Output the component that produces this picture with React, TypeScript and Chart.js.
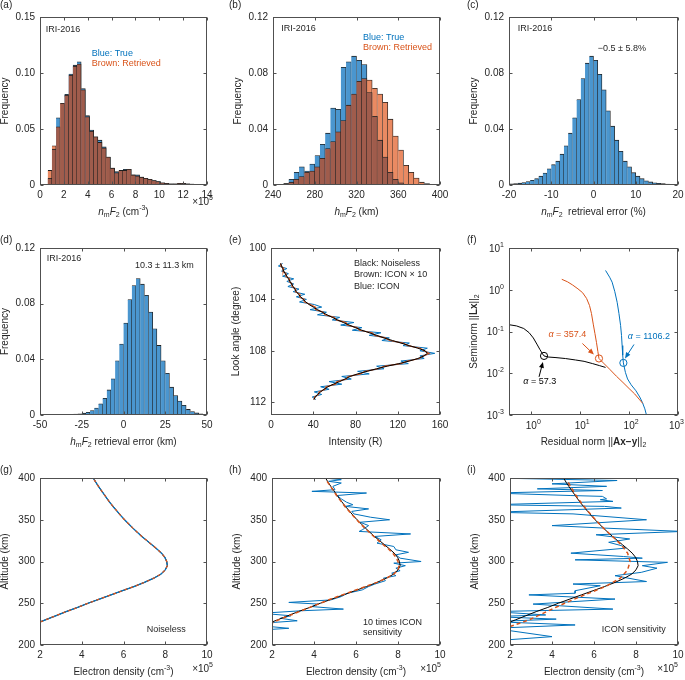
import React, { useEffect, useRef } from 'react';
import { Chart, registerables } from 'chart.js';
Chart.register(...registerables);

// ---------------- data ----------------
// (a) NmF2 histograms (x 1e5 cm^-3)
const nmf2Bins = [0.825,1.175,1.525,1.875,2.225,2.575,2.925,3.275,3.625,3.975,4.325,4.675,5.025,5.375,5.725,6.075,6.425,6.775,7.125,7.475,7.825,8.175,8.525,8.875,9.225,9.575,9.925,10.275,10.625,10.975,11.325,11.675,12.025,12.375,12.725,13.075,13.425];
const nmf2True = [0.006,0.032,0.060,0.073,0.081,0.099,0.107,0.110,0.086,0.062,0.049,0.043,0.040,0.034,0.025,0.015,0.012,0.013,0.014,0.014,0.009,0.009,0.007,0.006,0.005,0.004,0.003,0.002,0.0015,0.001,0.001,0.0015,0.0015,0.001,0.0008,0.0004,0.0002];
const nmf2Retrieved = [0.013,0.035,0.052,0.073,0.080,0.098,0.106,0.108,0.085,0.061,0.048,0.043,0.038,0.033,0.025,0.015,0.011,0.013,0.013,0.014,0.009,0.008,0.007,0.006,0.005,0.004,0.003,0.002,0.0015,0.001,0.001,0.0015,0.0015,0.001,0.0008,0.0004,0.0002];
// (b) hmF2 histograms (km)
const hmf2Bins = [247.5,252.5,257.5,262.5,267.5,272.5,277.5,282.5,287.5,292.5,297.5,302.5,307.5,312.5,317.5,322.5,327.5,332.5,337.5,342.5,347.5,352.5,357.5,362.5,367.5,372.5,377.5,382.5,387.5];
const hmf2True = [0.0005,0.001,0.004,0.009,0.013,0.010,0.015,0.021,0.029,0.037,0.055,0.054,0.084,0.088,0.092,0.089,0.086,0.066,0.049,0.032,0.020,0.009,0.004,0.0015,0.0005,0,0,0,0];
const hmf2Retrieved = [0.0005,0.001,0.002,0.004,0.006,0.009,0.010,0.013,0.019,0.026,0.031,0.038,0.046,0.057,0.065,0.074,0.076,0.075,0.069,0.065,0.059,0.047,0.035,0.025,0.014,0.009,0.005,0.002,0.001];
// (c) NmF2 retrieval error (%)
const nmf2ErrBins = [-19.5,-18.5,-17.5,-16.5,-15.5,-14.5,-13.5,-12.5,-11.5,-10.5,-9.5,-8.5,-7.5,-6.5,-5.5,-4.5,-3.5,-2.5,-1.5,-0.5,0.5,1.5,2.5,3.5,4.5,5.5,6.5,7.5,8.5,9.5,10.5,11.5,12.5,13.5,14.5,15.5,16.5,17.5,18.5,19.5];
const nmf2ErrFreq = [0.0008,0.001,0.0013,0.0018,0.0025,0.0033,0.0045,0.0063,0.0085,0.0115,0.0145,0.017,0.022,0.028,0.037,0.048,0.061,0.076,0.087,0.092,0.089,0.079,0.068,0.053,0.042,0.032,0.024,0.017,0.013,0.0088,0.0063,0.0045,0.003,0.0022,0.0016,0.0012,0.001,0.0007,0.0005,0.0003];
// (d) hmF2 retrieval error (km)
const hmf2ErrBins = [-48.75,-46.25,-43.75,-41.25,-38.75,-36.25,-33.75,-31.25,-28.75,-26.25,-23.75,-21.25,-18.75,-16.25,-13.75,-11.25,-8.75,-6.25,-3.75,-1.25,1.25,3.75,6.25,8.75,11.25,13.75,16.25,18.75,21.25,23.75,26.25,28.75,31.25,33.75,36.25,38.75,41.25,43.75,46.25,48.75];
const hmf2ErrFreq = [0.0001,0.0001,0.0001,0.0001,0.0002,0.0002,0.0003,0.0004,0.0006,0.0009,0.0013,0.002,0.0032,0.005,0.008,0.012,0.018,0.026,0.039,0.051,0.066,0.083,0.093,0.098,0.094,0.086,0.074,0.062,0.050,0.039,0.030,0.020,0.014,0.010,0.007,0.004,0.0025,0.0015,0.0008,0.0004];
// (e) limb intensity profile
const lookAngle = [101.2,101.4,101.6,101.8,102.0,102.2,102.4,102.6,102.8,103.0,103.2,103.4,103.6,103.8,104.0,104.2,104.4,104.6,104.8,105.0,105.2,105.4,105.6,105.8,106.0,106.2,106.4,106.6,106.8,107.0,107.2,107.4,107.6,107.8,108.0,108.2,108.4,108.6,108.8,109.0,109.2,109.4,109.6,109.8,110.0,110.2,110.4,110.6,110.8,111.0,111.2,111.4,111.6,111.8];
const intensityNoiseless = [9,10,11,12,13.5,15,16.5,18,19.5,21,22.5,24,26,28,30.5,33,36,40,44,48.5,53,58,63,68.5,74,80,86,93,100,107,115,123,131,139,146,148,145,139,131,121,110,100,91,82,75,70,65,59,54,50,47,44,42,40.5];
const intensityIcon10 = [9.5,9.2,12,11.5,14.3,14,17.7,17.4,19.9,19.8,23.5,23.2,27.5,27,31.3,31.5,37.2,42,42.2,49.5,51,59.8,61.8,71,72,81.5,83.8,95.8,98.2,108.2,112.5,125,129.5,141.2,144.8,149.8,144,140.5,129,123.2,107.5,101.8,88.8,84.8,73,71.5,62.5,61,52.2,51.2,45.5,45,41.2,41];
const intensityIcon = [11,7,15,10,16.5,11,21.5,15,21.5,16,26.5,21,32,24,33.5,27,41,48,37,52.5,44,65,58,78.5,66,86,77,104,93,112,105,131,125,148,141,155,141,145,123,130,100,107,82,93,67,76,55,67,47,55,41,48,39,42.5];
// (f) L-curves
const lcBlackRes = [0.355,0.5,0.7,0.9,1.1,1.3,1.5,1.7,1.82,2.2,3.2,5,8,12,18,25,33];
const lcBlackSemi = [0.145,0.136,0.118,0.094,0.07,0.05,0.037,0.029,0.026,0.0245,0.0237,0.0225,0.0208,0.0193,0.017,0.0152,0.0138];
const lcBrownRes = [4.2,5.5,7,9,11.2,13.5,15.5,17,18.5,20,21.5,23,24.2,30,40,55,75,100,130,160,190];
const lcBrownSemi = [1.78,1.55,1.3,1.05,0.85,0.62,0.42,0.27,0.15,0.09,0.055,0.033,0.0226,0.0175,0.0125,0.0085,0.006,0.0043,0.0032,0.0024,0.0019];
const lcBlueRes = [33,40,45,51,57,62,67,70,72,74,76.4,84,93,110,138,165,187,210,232];
const lcBlueSemi = [2.9,2.0,1.52,0.9,0.5,0.27,0.14,0.08,0.046,0.027,0.0177,0.0105,0.0073,0.0053,0.0038,0.0027,0.002,0.0014,0.0009];
const cornerRes = [1.82, 24.2, 76.4];
const cornerSemi = [0.026, 0.0226, 0.0177];
const alphaLabels = ['57.3', '357.4', '1106.2'];
// (g)-(i) electron density profiles (x 1e5 cm^-3)
const altitude = [225,230,235,240,245,250,255,260,265,270,275,280,285,290,295,300,305,310,315,320,325,330,335,340,345,350,355,360,365,370,375,380,385,390,395,400];
const neTrue = [1.75,2.25,2.75,3.25,3.8,4.3,4.85,5.4,5.95,6.5,7.0,7.45,7.8,8.0,8.1,8.07,7.98,7.82,7.6,7.36,7.12,6.88,6.66,6.45,6.25,6.05,5.87,5.7,5.53,5.37,5.22,5.08,4.94,4.8,4.67,4.55];
const hNeRetr = [1.9,2.3,2.8,3.3,3.8,4.3,4.8,5.35,5.9,6.45,7.0,7.45,7.8,8.0,8.05,8.0,7.9,7.75,7.55,7.3,7.08,6.85,6.63,6.42,6.22,6.03,5.85,5.68,5.5,5.35,5.2,5.05,4.92,4.78,4.65,4.53];
const hAltIcon = [400,398,396,394,390,386,384,382,379,375,371,368,366,363,360,357,353,350,347,343,338,336,333,330,326,322,318,314,311,308,304,300,298,295,292,289,286,283,280,277,273,270,266,262,258,254,251,249,246,243,241,238,235,232,229,226,223,220,218];
const hNeIcon = [4.5,5.3,4.7,5.3,4.9,5.0,3.9,6.5,5.1,5.3,5.55,5.85,5.5,6.6,5.8,5.9,6.7,7.6,6.2,6.6,6.3,6.15,8.6,6.9,7.2,7.0,7.8,7.9,8.5,7.9,8.1,9.1,7.8,8.35,7.9,8.1,7.7,7.9,7.3,7.4,6.9,6.6,6.3,5.6,5.3,4.8,2.8,4.2,3.9,5.4,3.4,1.5,2.9,2.4,3.2,1.5,1.5,2.8,1.5];
const iAltRetr = [222,230,240,250,260,270,280,290,300,310,320,330,340,350,360,370,380,390,396];
const iNeRetr = [2.0,2.9,3.75,4.6,5.55,6.55,7.25,7.6,7.72,7.6,7.3,6.88,6.45,6.07,5.72,5.4,5.12,4.88,4.75];
const iAltIcon = [400,397,393,390,387,385,382,379,378,375,374,372,368,366,364,359,357,350,343,340,336,332,327,323,319,316,310,306,304,302,299,295,292,287,283,276,273,271,265,262,260,255,249,243,240,236,234,231,228,224,220,210,205];
const iNeIcon = [1.2,7.1,4.0,6.6,3.3,6.4,1.2,4.9,6.4,6.6,6.3,6.9,1.2,6.5,7.3,1.2,5.0,8.5,4.0,6.5,10.2,6.1,7.7,6.7,7.3,7.5,4.9,7.4,8.3,5.1,9.5,8.3,9.0,8.25,7.0,8.5,5.0,6.3,5.1,5.1,2.9,7.0,3.1,6.9,1.2,3.7,1.2,4.2,1.2,5.1,1.2,4.0,1.2];

// ticks
const aXTicks = [0,2,4,6,8,10,12,14];
const aXLabels = ['0','2','4','6','8','10','12','14'];
const aYTicks = [0,0.05,0.1,0.15];
const aYLabels = ['0','0.05','0.10','0.15'];
const bXTicks = [240,280,320,360,400];
const bXLabels = ['240','280','320','360','400'];
const freqTicks = [0,0.04,0.08,0.12];
const freqLabels = ['0','0.04','0.08','0.12'];
const cXTicks = [-20,-10,0,10,20];
const cXLabels = ['-20','-10','0','10','20'];
const dXTicks = [-50,-25,0,25,50];
const dXLabels = ['-50','-25','0','25','50'];
const eXTicks = [0,40,80,120,160];
const eXLabels = ['0','40','80','120','160'];
const eYTicks = [100,104,108,112];
const eYLabels = ['100','104','108','112'];
const fXTicks = [1,10,100,1000];
const fXExp = ['0','1','2','3'];
const fYTicks = [0.001,0.01,0.1,1,10];
const fYExp = ['-3','-2','-1','0','1'];
const neTicks = [2,4,6,8,10];
const neLabels = ['2','4','6','8','10'];
const altTicks = [200,250,300,350,400];
const altLabels = ['200','250','300','350','400'];

// ---------------- styling ----------------
const FONT = "'Liberation Sans', Arial, Helvetica, sans-serif";
const INK = '#262626';
const FRAME = '#505050';
const BLUE = '#0072BD';
const ORANGE = '#D95319';
const BAR_BLUE = '#4a96cf';
const BAR_ORANGE = '#ea8a62';
const BAR_BROWN = '#a05c4c';
const EDGE = '#1e1e1e';
const FS = 10;
const TFS = 9;
const PAD_L = 48, PAD_T = 9, PAD_B = 36;

type Seg = { t: string; it?: boolean; bd?: boolean; sub?: boolean; sup?: boolean };
type Rect = { l: number; t: number; r: number; b: number };

function segFont(s: Seg, size: number) {
  const z = s.sub || s.sup ? size * 0.7 : size;
  return `${s.it ? 'italic ' : ''}${s.bd ? 'bold ' : ''}${z}px ${FONT}`;
}
function richWidth(ctx: any, segs: Seg[], size: number) {
  let w = 0;
  for (const s of segs) { ctx.font = segFont(s, size); w += ctx.measureText(s.t).width; }
  return w;
}
function drawRich(ctx: any, segs: Seg[], x: number, y: number, size: number, color: string, align = 'left', angle = 0, maxRight = Infinity) {
  ctx.save();
  const w = richWidth(ctx, segs, size);
  let cx = align === 'center' ? -w / 2 : align === 'right' ? -w : 0;
  if (!angle && x + cx + w > maxRight) cx = maxRight - w - x;
  ctx.translate(x, y);
  if (angle) ctx.rotate(angle);
  ctx.fillStyle = color;
  ctx.textBaseline = 'middle';
  ctx.textAlign = 'left';
  for (const s of segs) {
    ctx.font = segFont(s, size);
    const dy = s.sub ? size * 0.3 : s.sup ? -size * 0.38 : 0;
    ctx.fillText(s.t, cx, dy);
    cx += ctx.measureText(s.t).width;
  }
  ctx.restore();
}

const T_FREQ: Seg[] = [{ t: 'Frequency' }];
const T_NMF2: Seg[] = [{ t: 'n', it: true }, { t: 'm', sub: true }, { t: 'F', it: true }, { t: '2', sub: true }, { t: ' (cm' }, { t: '-3', sup: true }, { t: ')' }];
const T_HMF2: Seg[] = [{ t: 'h', it: true }, { t: 'm', sub: true }, { t: 'F', it: true }, { t: '2', sub: true }, { t: ' (km)' }];
const T_NMF2ERR: Seg[] = [{ t: 'n', it: true }, { t: 'm', sub: true }, { t: 'F', it: true }, { t: '2', sub: true }, { t: '  retrieval error (%)' }];
const T_HMF2ERR: Seg[] = [{ t: 'h', it: true }, { t: 'm', sub: true }, { t: 'F', it: true }, { t: '2', sub: true }, { t: ' retrieval error (km)' }];
const T_INT: Seg[] = [{ t: 'Intensity (R)' }];
const T_LOOK: Seg[] = [{ t: 'Look angle (degree)' }];
const T_RES: Seg[] = [{ t: 'Residual norm ||' }, { t: 'Ax\u2212y', bd: true }, { t: '||' }, { t: '2', sub: true }];
const T_SEMI: Seg[] = [{ t: 'Seminorm ||' }, { t: 'Lx', bd: true }, { t: '||' }, { t: '2', sub: true }];
const T_NE: Seg[] = [{ t: 'Electron density (cm' }, { t: '-3', sup: true }, { t: ')' }];
const T_ALT: Seg[] = [{ t: 'Altitude (km)' }];
const EXP5: Seg[] = [{ t: '\u00d710' }, { t: '5', sup: true }];

type Decor = {
  xTitle: Seg[]; yTitle: Seg[];
  texts?: { dx: number; dy: number; s: Seg[]; c?: string }[];
  dataTexts?: { x: number; y: number; s: Seg[]; c: string }[];
  arrows?: { x1: number; y1: number; x2: number; y2: number; c: string }[];
  exp?: { dx: number; dy: number };
  logX?: string[]; logY?: string[];
};

function decorPlugin(d: Decor) {
  return {
    id: 'decor',
    afterDatasetsDraw(chart: any) {
      const { ctx, chartArea: ca, scales } = chart;
      const xs = scales.x, ys = scales.y;
      ctx.save();
      // arrows
      for (const a of d.arrows || []) {
        const x1 = xs.getPixelForValue(a.x1), y1 = ys.getPixelForValue(a.y1);
        const x2 = xs.getPixelForValue(a.x2), y2 = ys.getPixelForValue(a.y2);
        const ang = Math.atan2(y2 - y1, x2 - x1);
        ctx.strokeStyle = a.c; ctx.fillStyle = a.c; ctx.lineWidth = 1;
        ctx.beginPath(); ctx.moveTo(x1, y1); ctx.lineTo(x2 - 4 * Math.cos(ang), y2 - 4 * Math.sin(ang)); ctx.stroke();
        ctx.beginPath();
        ctx.moveTo(x2, y2);
        ctx.lineTo(x2 - 6 * Math.cos(ang) + 2.5 * Math.sin(ang), y2 - 6 * Math.sin(ang) - 2.5 * Math.cos(ang));
        ctx.lineTo(x2 - 6 * Math.cos(ang) - 2.5 * Math.sin(ang), y2 - 6 * Math.sin(ang) + 2.5 * Math.cos(ang));
        ctx.closePath(); ctx.fill();
      }
      // frame
      const L = Math.round(ca.left) + 0.5, R = Math.round(ca.right) - 0.5;
      const T = Math.round(ca.top) + 0.5, B = Math.round(ca.bottom) - 0.5;
      ctx.strokeStyle = FRAME; ctx.lineWidth = 1;
      ctx.strokeRect(L, T, R - L, B - T);
      ctx.beginPath();
      const TL = 3;
      for (const t of xs.ticks) {
        const px = Math.round(xs.getPixelForValue(t.value)) + 0.5;
        ctx.moveTo(px, B); ctx.lineTo(px, B - TL);
        ctx.moveTo(px, T); ctx.lineTo(px, T + TL);
      }
      for (const t of ys.ticks) {
        const py = Math.round(ys.getPixelForValue(t.value)) + 0.5;
        ctx.moveTo(L, py); ctx.lineTo(L + TL, py);
        ctx.moveTo(R, py); ctx.lineTo(R - TL, py);
      }
      ctx.stroke();
      // titles
      const cx = (ca.left + ca.right) / 2, cy = (ca.top + ca.bottom) / 2;
      drawRich(ctx, d.xTitle, cx, ca.bottom + 27, FS, INK, 'center');
      drawRich(ctx, d.yTitle, ca.left - 35, cy, FS, INK, 'center', -Math.PI / 2);
      if (d.exp) drawRich(ctx, EXP5, ca.right + d.exp.dx, ca.bottom + d.exp.dy, FS, INK, 'right');
      const maxR = chart.width - 1;
      if (d.logX) xs.ticks.forEach((t: any, i: number) => drawRich(ctx, [{ t: '10' }, { t: d.logX![i], sup: true }], xs.getPixelForValue(t.value) + 2, ca.bottom + 11, FS, INK, 'center', 0, maxR));
      if (d.logY) ys.ticks.forEach((t: any, i: number) => drawRich(ctx, [{ t: '10' }, { t: d.logY![i], sup: true }], ca.left - 5, ys.getPixelForValue(t.value) + 1, FS, INK, 'right'));
      for (const t of d.texts || []) drawRich(ctx, t.s, ca.left + t.dx, ca.top + t.dy, TFS, t.c || INK, 'left');
      for (const t of d.dataTexts || []) drawRich(ctx, t.s, xs.getPixelForValue(t.x), ys.getPixelForValue(t.y), TFS, t.c, 'center');
      ctx.restore();
    },
  };
}

type AxisSpec = { type?: string; min: number; max: number; ticks: number[]; labels?: string[]; reverse?: boolean };

function scaleOpts(a: AxisSpec, dir: 'x' | 'y') {
  return {
    type: a.type || 'linear', min: a.min, max: a.max, reverse: !!a.reverse, offset: false,
    grid: { display: false, drawTicks: false, tickLength: 0 }, border: { display: false },
    ticks: {
      autoSkip: false, maxRotation: 0, minRotation: 0, padding: dir === 'x' ? 4 : 5,
      color: INK, font: { family: FONT, size: FS },
      callback: (_v: any, i: number) => (a.labels ? a.labels[i] : ''),
    },
    afterBuildTicks: (s: any) => { s.ticks = a.ticks.map((v) => ({ value: v })); },
    afterFit: (s: any) => {
      if (dir === 'x') { s.height = PAD_B; s.paddingLeft = 0; s.paddingRight = 0; }
      else { s.width = PAD_L; s.paddingTop = 0; s.paddingBottom = 0; }
    },
  };
}

function makeConfig(kind: string, datasets: any[], padR: number, x: AxisSpec, y: AxisSpec, d: Decor) {
  return {
    type: kind,
    data: { datasets },
    options: {
      responsive: false, animation: false, events: [],
      layout: { padding: { top: PAD_T, right: padR, left: 0, bottom: 0 } },
      plugins: { legend: { display: false }, tooltip: { enabled: false } },
      scales: { x: scaleOpts(x, 'x'), y: scaleOpts(y, 'y') },
    },
    plugins: [decorPlugin(d)],
  };
}

const barStyle = {
  grouped: false, barPercentage: 1, categoryPercentage: 1, borderColor: EDGE,
  borderWidth: { top: 0.8, right: 0.8, bottom: 0, left: 0 }, borderSkipped: 'start',
};
function overlapBars(bins: number[], blue: number[], brown: number[]) {
  const hi = bins.map((x, i) => ({ x, y: Math.max(blue[i], brown[i]) }));
  const lo = bins.map((x, i) => ({ x, y: Math.min(blue[i], brown[i]) }));
  const hiColor = bins.map((_, i) => (blue[i] > brown[i] ? BAR_BLUE : BAR_ORANGE));
  return [
    { ...barStyle, data: lo, backgroundColor: BAR_BROWN, order: 0 },
    { ...barStyle, data: hi, backgroundColor: hiColor, order: 1 },
  ];
}
function singleBars(bins: number[], vals: number[]) {
  return [{ ...barStyle, data: bins.map((x, i) => ({ x, y: vals[i] })), backgroundColor: BAR_BLUE }];
}
function line(xs: number[], ys: number[], color: string, width: number, dash: number[] = []) {
  return { data: xs.map((x, i) => ({ x, y: ys[i] })), showLine: true, pointRadius: 0, borderColor: color, borderWidth: width, borderDash: dash, fill: false, tension: 0 };
}
function circle(x: number, y: number, color: string) {
  return { data: [{ x, y }], showLine: false, pointRadius: 3.6, pointBorderWidth: 1, pointBackgroundColor: 'rgba(0,0,0,0)', pointBorderColor: color };
}
const S = (t: string): Seg[] => [{ t }];
const A = (v: string): Seg[] => [{ t: '\u03b1', it: true }, { t: ' = ' + v }];

type PanelDef = { key: string; rect: Rect; padR: number; label: { x: number; y: number }; build: () => any };

const PANELS: PanelDef[] = [
  {
    key: 'a', rect: { l: 40, t: 17, r: 207, b: 185 }, padR: 14, label: { x: 0, y: 0 },
    build: () => makeConfig('bar', overlapBars(nmf2Bins, nmf2True, nmf2Retrieved), 14,
      { min: 0, max: 14, ticks: aXTicks, labels: aXLabels }, { min: 0, max: 0.15, ticks: aYTicks, labels: aYLabels },
      { xTitle: T_NMF2, yTitle: T_FREQ, exp: { dx: 6, dy: 17 },
        texts: [{ dx: 5.7, dy: 12.3, s: S('IRI-2016') }, { dx: 51.7, dy: 36.3, s: S('Blue: True'), c: BLUE }, { dx: 51.7, dy: 46.3, s: S('Brown: Retrieved'), c: ORANGE }] }),
  },
  {
    key: 'b', rect: { l: 273, t: 17, r: 440, b: 185 }, padR: 14, label: { x: 229, y: 0 },
    build: () => makeConfig('bar', overlapBars(hmf2Bins, hmf2True, hmf2Retrieved), 14,
      { min: 240, max: 400, ticks: bXTicks, labels: bXLabels }, { min: 0, max: 0.12, ticks: freqTicks, labels: freqLabels },
      { xTitle: T_HMF2, yTitle: T_FREQ,
        texts: [{ dx: 8.3, dy: 12, s: S('IRI-2016') }, { dx: 90, dy: 20.3, s: S('Blue: True'), c: BLUE }, { dx: 90, dy: 30.7, s: S('Brown: Retrieved'), c: ORANGE }] }),
  },
  {
    key: 'c', rect: { l: 509, t: 17, r: 678, b: 185 }, padR: 7, label: { x: 467, y: 0 },
    build: () => makeConfig('bar', singleBars(nmf2ErrBins, nmf2ErrFreq), 7,
      { min: -20, max: 20, ticks: cXTicks, labels: cXLabels }, { min: 0, max: 0.12, ticks: freqTicks, labels: freqLabels },
      { xTitle: T_NMF2ERR, yTitle: T_FREQ,
        texts: [{ dx: 8.7, dy: 12, s: S('IRI-2016') }, { dx: 88.7, dy: 31.3, s: S('\u22120.5 \u00b1 5.8%') }] }),
  },
  {
    key: 'd', rect: { l: 40, t: 248, r: 207, b: 415 }, padR: 14, label: { x: 0, y: 235 },
    build: () => makeConfig('bar', singleBars(hmf2ErrBins, hmf2ErrFreq), 14,
      { min: -50, max: 50, ticks: dXTicks, labels: dXLabels }, { min: 0, max: 0.12, ticks: freqTicks, labels: freqLabels },
      { xTitle: T_HMF2ERR, yTitle: T_FREQ,
        texts: [{ dx: 6.7, dy: 10.3, s: S('IRI-2016') }, { dx: 95, dy: 17.7, s: S('10.3 \u00b1 11.3 km') }] }),
  },
  {
    key: 'e', rect: { l: 271, t: 248, r: 440, b: 415 }, padR: 14, label: { x: 229, y: 235 },
    build: () => makeConfig('scatter', [
      line(intensityNoiseless, lookAngle, '#000000', 1),
      line(intensityIcon10, lookAngle, ORANGE, 1.2),
      line(intensityIcon, lookAngle, BLUE, 1),
    ], 14,
      { min: 0, max: 160, ticks: eXTicks, labels: eXLabels }, { min: 100, max: 113, ticks: eYTicks, labels: eYLabels, reverse: true },
      { xTitle: T_INT, yTitle: T_LOOK,
        texts: [{ dx: 83, dy: 15.3, s: S('Black: Noiseless') }, { dx: 83, dy: 27, s: S('Brown: ICON \u00d7 10') }, { dx: 83, dy: 38.7, s: S('Blue: ICON') }] }),
  },
  {
    key: 'f', rect: { l: 509, t: 248, r: 678, b: 415 }, padR: 7, label: { x: 467, y: 235 },
    build: () => makeConfig('scatter', [
      circle(cornerRes[0], cornerSemi[0], '#000000'),
      circle(cornerRes[1], cornerSemi[1], ORANGE),
      circle(cornerRes[2], cornerSemi[2], BLUE),
      line(lcBlackRes, lcBlackSemi, '#000000', 1),
      line(lcBrownRes, lcBrownSemi, ORANGE, 1),
      line(lcBlueRes, lcBlueSemi, BLUE, 1),
    ], 7,
      { type: 'logarithmic', min: 0.35, max: 1000, ticks: fXTicks }, { type: 'logarithmic', min: 0.001, max: 10, ticks: fYTicks },
      { xTitle: T_RES, yTitle: T_SEMI, logX: fXExp, logY: fYExp,
        dataTexts: [
          { x: 1.49, y: 0.0062, s: A(alphaLabels[0]), c: '#000000' },
          { x: 5.47, y: 0.086, s: A(alphaLabels[1]), c: ORANGE },
          { x: 255, y: 0.0743, s: A(alphaLabels[2]), c: BLUE },
        ],
        arrows: [
          { x1: 1.44, y1: 0.0082, x2: 1.73, y2: 0.0187, c: '#000000' },
          { x1: 11.1, y1: 0.0516, x2: 19.1, y2: 0.028, c: ORANGE },
          { x1: 126, y1: 0.0489, x2: 82.4, y2: 0.0226, c: BLUE },
        ] }),
  },
  {
    key: 'g', rect: { l: 40, t: 478, r: 207, b: 645 }, padR: 14, label: { x: 0, y: 465 },
    build: () => makeConfig('scatter', [
      line(neTrue, altitude, ORANGE, 1.3, [3, 3]),
      line(neTrue, altitude, BLUE, 1.3),
      line(neTrue, altitude, '#000000', 1),
    ], 14,
      { min: 2, max: 10, ticks: neTicks, labels: neLabels }, { min: 200, max: 400, ticks: altTicks, labels: altLabels },
      { xTitle: T_NE, yTitle: T_ALT, exp: { dx: 6, dy: 24 }, texts: [{ dx: 106.7, dy: 152, s: S('Noiseless') }] }),
  },
  {
    key: 'h', rect: { l: 272, t: 478, r: 440, b: 645 }, padR: 14, label: { x: 229, y: 465 },
    build: () => makeConfig('scatter', [
      line(hNeRetr, altitude, ORANGE, 1.5, [4, 3]),
      line(neTrue, altitude, '#000000', 1),
      line(hNeIcon, hAltIcon, BLUE, 1),
    ], 14,
      { min: 2, max: 10, ticks: neTicks, labels: neLabels }, { min: 200, max: 400, ticks: altTicks, labels: altLabels },
      { xTitle: T_NE, yTitle: T_ALT, exp: { dx: 1, dy: 24 },
        texts: [{ dx: 91, dy: 144.3, s: S('10 times ICON') }, { dx: 91, dy: 154.7, s: S('sensitivity') }] }),
  },
  {
    key: 'i', rect: { l: 510, t: 478, r: 678, b: 645 }, padR: 7, label: { x: 467, y: 465 },
    build: () => makeConfig('scatter', [
      line(iNeRetr, iAltRetr, ORANGE, 1.5, [4, 3]),
      line(neTrue, altitude, '#000000', 1),
      line(iNeIcon, iAltIcon, BLUE, 1),
    ], 7,
      { min: 2, max: 10, ticks: neTicks, labels: neLabels }, { min: 200, max: 400, ticks: altTicks, labels: altLabels },
      { xTitle: T_NE, yTitle: T_ALT, exp: { dx: 0, dy: 24 }, texts: [{ dx: 91.7, dy: 152, s: S('ICON sensitivity') }] }),
  },
];

function Panel({ p }: { p: PanelDef }) {
  const ref = useRef<HTMLCanvasElement>(null);
  const W = p.rect.r - p.rect.l + PAD_L + p.padR;
  const H = p.rect.b - p.rect.t + PAD_T + PAD_B;
  useEffect(() => {
    const chart = new Chart(ref.current as HTMLCanvasElement, p.build() as any);
    return () => chart.destroy();
  }, []);
  return (
    <canvas ref={ref} width={W} height={H}
      style={{ position: 'absolute', left: p.rect.l - PAD_L, top: p.rect.t - PAD_T, width: W, height: H }} />
  );
}

export default function App() {
  return (
    <div style={{ position: 'fixed', left: 0, top: 0, width: 685, height: 680, overflow: 'hidden', background: '#ffffff' }}>
      {PANELS.map((p) => <Panel key={p.key} p={p} />)}
      {PANELS.map((p) => (
        <div key={'l' + p.key} style={{ position: 'absolute', left: p.label.x, top: p.label.y, font: `10px ${FONT}`, lineHeight: '10px', color: INK }}>
          ({p.key})
        </div>
      ))}
    </div>
  );
}
